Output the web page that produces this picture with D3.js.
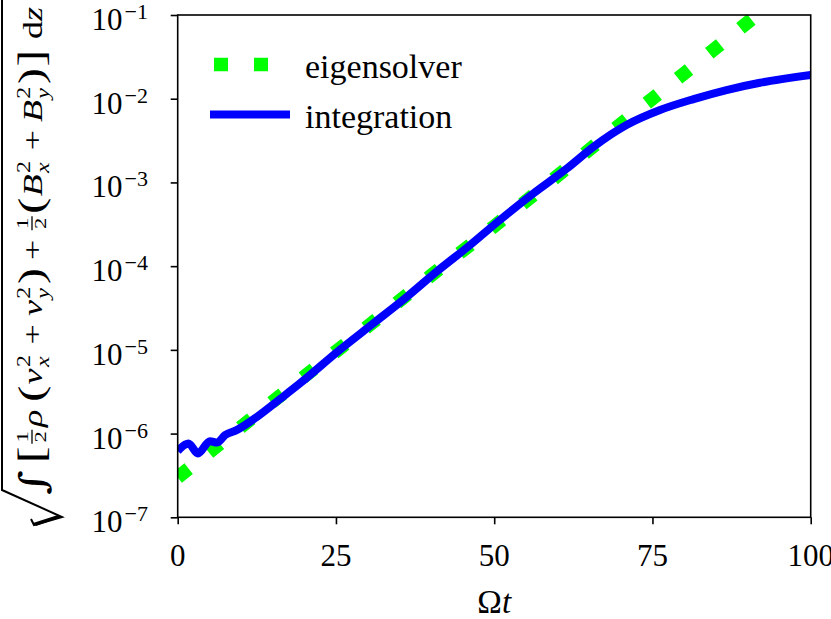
<!DOCTYPE html>
<html>
<head>
<meta charset="utf-8">
<script src="https://cdn.jsdelivr.net/npm/d3@7"></script>
<style>
  body { margin: 0; background: #fff; }
  svg { display: block; font-family: "Liberation Serif", "DejaVu Serif", serif; }
</style>
</head>
<body>
<svg id="chart" width="831" height="619"></svg>
<script>
// eigensolver (pure exponential growth)
const tEigen = [0, 10, 20, 30, 40, 50, 60, 70, 80, 91.5];
const vEigen = [3.0e-7, 1.2e-6, 4.8e-6, 1.9e-5, 7.7e-5, 3.0e-4, 1.2e-3, 5.0e-3, 2.0e-2, 1.0e-1];

// direct integration
const tInteg = [0, 1.7, 3.2, 5.1, 6.2, 7.5, 9.3, 12.5, 16.2, 19.3, 25.6, 30.9, 36.2, 40.9,
  46.2, 50.9, 56.2, 61.5, 65.7, 70.9, 76.2, 81.5, 86.7, 92.0, 100];
const vInteg = [6.2e-7, 7.6e-7, 5.8e-7, 8.1e-7, 7.8e-7, 9.6e-7, 1.1e-6, 1.58e-6, 2.6e-6, 3.97e-6,
  1.0e-5, 2.07e-5, 4.3e-5, 8.6e-5, 1.79e-4, 3.56e-4, 7.4e-4, 1.47e-3, 2.67e-3, 4.85e-3,
  7.33e-3, 9.9e-3, 1.27e-2, 1.55e-2, 1.92e-2];

const xTicks = [0, 25, 50, 75, 100];
const yExps = [-7, -6, -5, -4, -3, -2, -1];
const legendLabels = ['eigensolver', 'integration'];

const X0 = 177.7, X1 = 810.7, Y0 = 15, Y1 = 517.3;
const GREEN = '#00ff00', BLUE = '#0000ff';

const svg = d3.select('#chart');
svg.append('rect').attr('width', 831).attr('height', 619).attr('fill', '#fff');

const x = d3.scaleLinear().domain([0, 100]).range([X0, X1]);
const y = d3.scaleLog().domain([1e-7, 1e-1]).range([Y1, Y0]);

svg.append('clipPath').attr('id', 'plot-clip')
  .append('rect').attr('x', X0).attr('y', Y0).attr('width', X1 - X0).attr('height', Y1 - Y0);

const line = d3.line().x(d => x(d[0])).y(d => y(d[1])).curve(d3.curveMonotoneX);
const plot = svg.append('g').attr('clip-path', 'url(#plot-clip)');

plot.append('path')
  .datum(d3.zip(tEigen, vEigen))
  .attr('d', line)
  .attr('fill', 'none').attr('stroke', GREEN).attr('stroke-width', 13.5)
  .attr('stroke-dasharray', '14,26').attr('stroke-linecap', 'butt');

plot.append('path')
  .datum(d3.zip(tInteg, vInteg))
  .attr('d', line)
  .attr('fill', 'none').attr('stroke', BLUE).attr('stroke-width', 8)
  .attr('stroke-linejoin', 'round').attr('stroke-linecap', 'butt');

// axes
const xAxis = d3.axisBottom(x).tickValues(xTicks).tickSize(7).tickFormat(() => '');
const yAxis = d3.axisLeft(y).tickValues(yExps.map(e => Math.pow(10, e))).tickSize(7).tickFormat(() => '');
const gx = svg.append('g').attr('transform', `translate(0,${Y1})`).call(xAxis);
const gy = svg.append('g').attr('transform', `translate(${X0},0)`).call(yAxis);
[gx, gy].forEach(g => {
  g.select('.domain').remove();
  g.selectAll('line').attr('stroke', '#000').attr('stroke-width', 1.6);
});

svg.append('rect')
  .attr('x', X0).attr('y', Y0).attr('width', X1 - X0).attr('height', Y1 - Y0)
  .attr('fill', 'none').attr('stroke', '#000').attr('stroke-width', 1.6);

svg.append('g').selectAll('text').data(xTicks).enter().append('text')
  .attr('x', d => x(d)).attr('y', 566)
  .attr('text-anchor', 'middle').attr('font-size', 31)
  .text(d => d);

const yl = svg.append('g').selectAll('text').data(yExps).enter().append('text')
  .attr('x', 148).attr('y', d => y(Math.pow(10, d)) + 15)
  .attr('text-anchor', 'end').attr('font-size', 31);
yl.append('tspan').text('10');
yl.append('tspan').attr('dx', 2).attr('dy', -11).attr('font-size', 22).text(d => '\u2212' + (-d));

// x label
const xl = svg.append('text').attr('x', (X0 + X1) / 2).attr('y', 613)
  .attr('text-anchor', 'middle').attr('font-size', 33);
xl.append('tspan').text('\u03a9');
xl.append('tspan').attr('font-style', 'italic').text('t');

// legend
const legend = svg.append('g');
legend.append('line').attr('x1', 214).attr('x2', 290).attr('y1', 64.5).attr('y2', 64.5)
  .attr('stroke', GREEN).attr('stroke-width', 13.5).attr('stroke-dasharray', '14,26');
legend.append('line').attr('x1', 210).attr('x2', 290).attr('y1', 114.5).attr('y2', 114.5)
  .attr('stroke', BLUE).attr('stroke-width', 8);
legend.selectAll('text').data(legendLabels).enter().append('text')
  .attr('x', 305).attr('y', (d, i) => 78 + i * 49.5)
  .attr('font-size', 34).text(d => d);

// y label: sqrt( ∫ [½ρ (vx² + vy²) + ½ (Bx² + By²)] dz ), laid out piece by piece
const lab = svg.append('g');
const inner = lab.append('g');
let cx = 0;
function put(str, o = {}) {
  const t = inner.append('text').attr('x', cx).attr('y', o.dy || 0)
    .attr('font-size', o.size || 27)
    .attr('font-style', o.italic ? 'italic' : 'normal')
    .text(str);
  if (o.family) t.attr('font-family', o.family);
  const w = t.node().getComputedTextLength();
  if (!o.noAdvance) cx += w + (o.after || 0);
  return w;
}
function frac() {
  const x0 = cx + 1;
  const w1 = put('1', { size: 17, dy: -14, noAdvance: true });
  inner.select('text:last-child').attr('x', x0 + 1);
  put('2', { size: 17, dy: 4, noAdvance: true });
  inner.select('text:last-child').attr('x', x0 + 1);
  inner.append('line').attr('x1', x0).attr('x2', x0 + w1 + 2)
    .attr('y1', -10).attr('y2', -10).attr('stroke', '#000').attr('stroke-width', 1.3);
  cx = x0 + w1 + 4;
}
function supsub(base, sub) {
  put(base, { italic: true, after: 1 });
  const x0 = cx;
  const w1 = put('2', { size: 18, dy: -12, noAdvance: true });
  const w2 = put(sub, { size: 18, dy: 7, italic: true, noAdvance: true });
  cx = x0 + Math.max(w1, w2) + 2;
}
function plus() {
  cx += 6;
  put('+', { after: 6 });
}
put('\u222b', { size: 36, dy: 3, family: 'DejaVu Serif', after: 5 });
put('[', { size: 38, dy: 2, after: 1 });
frac();
put('\u03c1', { italic: true, after: 6 });
put('(', { size: 36, dy: 1, after: 1 });
supsub('v', 'x');
plus();
supsub('v', 'y');
put(')', { size: 36, dy: 1 });
plus();
frac();
put('(', { size: 36, dy: 1, after: 1 });
supsub('B', 'x');
plus();
supsub('B', 'y');
put(')', { size: 36, dy: 1, after: 1 });
put(']', { size: 38, dy: 2, after: 8 });
put('d');
put('z', { italic: true });

const L = 488;
const sx = L / cx;
inner.attr('transform', `scale(${sx},1)`);
lab.attr('transform', 'translate(42,495) rotate(-90)');

// radical sign
svg.append('path')
  .attr('d', 'M31,519 L34,525 L62,517 L2,490 L2,0')
  .attr('fill', 'none').attr('stroke', '#000').attr('stroke-width', 2)
  .attr('stroke-linejoin', 'miter');
svg.append('path')
  .attr('d', 'M33,523 L36,526 L62,517 L58,515 Z')
  .attr('fill', '#000');
</script>
</body>
</html>
